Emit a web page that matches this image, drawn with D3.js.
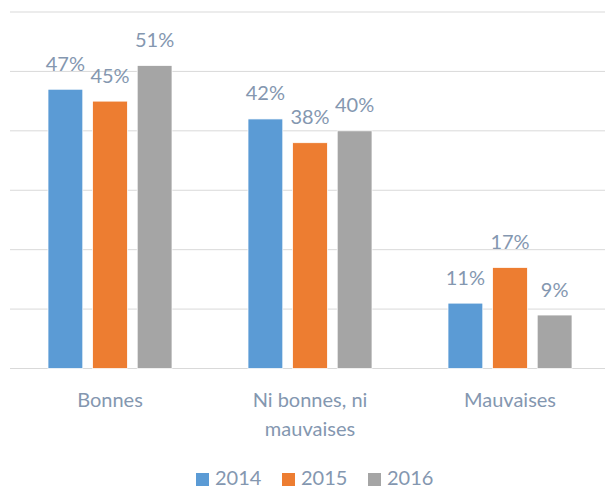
<!DOCTYPE html>
<html>
<head>
<meta charset="utf-8">
<script src="https://cdn.jsdelivr.net/npm/d3@7"></script>
<style>
  html, body { margin: 0; padding: 0; background: #fff; }
  #chart { width: 605px; height: 490px; overflow: hidden; }
  text { font-family: Lato, "Open Sans", sans-serif; fill: #8497b0; }
</style>
</head>
<body>
<div id="chart"></div>
<script>
// categories and series
const categories = ['Bonnes', 'Ni bonnes, ni mauvaises', 'Mauvaises']
const categoryLines = [['Bonnes'], ['Ni bonnes, ni', 'mauvaises'], ['Mauvaises']]
const years = ['2014', '2015', '2016']
const values2014 = [0.47, 0.42, 0.11]
const values2015 = [0.45, 0.38, 0.17]
const values2016 = [0.51, 0.40, 0.09]
const yTicks = [0, 0.1, 0.2, 0.3, 0.4, 0.5, 0.6]
const colors = ['#5b9bd5', '#ed7d31', '#a5a5a5']

const series = [values2014, values2015, values2016]

const width = 605
const height = 490
const margin = { top: 12, right: -5, bottom: 121.5, left: 10 }

const svg = d3.select('#chart').append('svg')
	.attr('width', width)
	.attr('height', height)

/**
 * Scales
 */
const x0 = d3.scaleBand()
	.domain(categories)
	.range([margin.left, width - margin.right])

const x1 = d3.scaleBand()
	.domain(years)
	.range([38, 162])
	.paddingInner(0.22)

const y = d3.scaleLinear()
	.domain([0, 0.6])
	.range([height - margin.bottom, margin.top])

const fmt = d3.format('.0%')

/**
 * Gridlines
 */
svg.append('g')
	.selectAll('line')
	.data(yTicks)
	.enter().append('line')
	.attr('x1', margin.left)
	.attr('x2', width - margin.right)
	.attr('y1', d => y(d))
	.attr('y2', d => y(d))
	.attr('stroke', '#d9d9d9')
	.attr('stroke-width', 1)

/**
 * Bars + labels
 */
const groups = svg.append('g')
	.selectAll('g')
	.data(categories)
	.enter().append('g')
	.attr('transform', d => 'translate(' + x0(d) + ',0)')

const cells = (c, ci) => years.map((yr, si) => ({ year: yr, value: series[si][ci], color: colors[si] }))

groups.selectAll('rect')
	.data(cells)
	.enter().append('rect')
	.attr('x', d => x1(d.year))
	.attr('y', d => y(d.value))
	.attr('width', x1.bandwidth())
	.attr('height', d => y(0) - y(d.value))
	.attr('fill', d => d.color)
	.attr('stroke', '#fff')
	.attr('stroke-width', 0.75)

groups.selectAll('text.label')
	.data(cells)
	.enter().append('text')
	.attr('class', 'label')
	.attr('text-anchor', 'middle')
	.attr('font-size', 20)
	.attr('x', d => x1(d.year) + x1.bandwidth() / 2)
	.attr('y', d => y(d.value) - 18.5)
	.text(d => fmt(d.value))

/**
 * Category axis labels
 */
const catLabels = svg.append('g')
	.selectAll('text')
	.data(categories)
	.enter().append('text')
	.attr('text-anchor', 'middle')
	.attr('font-size', 20)
	.attr('x', d => x0(d) + x0.bandwidth() / 2)
	.attr('y', y(0) + 38)

catLabels.selectAll('tspan')
	.data((d, i) => categoryLines[i])
	.enter().append('tspan')
	.attr('x', function () { return d3.select(this.parentNode).attr('x') })
	.attr('dy', (d, i) => i === 0 ? 0 : 29)
	.text(d => d)

/**
 * Legend
 */
const lx = d3.scalePoint()
	.domain(years)
	.range([196, 368])

const legend = svg.append('g')
	.selectAll('g')
	.data(years)
	.enter().append('g')
	.attr('transform', d => 'translate(' + lx(d) + ',0)')

legend.append('rect')
	.attr('x', 0)
	.attr('y', 473)
	.attr('width', 13)
	.attr('height', 13)
	.attr('fill', (d, i) => colors[i])

legend.append('text')
	.attr('x', 19)
	.attr('y', 485)
	.attr('font-size', 20)
	.text(d => d)
</script>
</body>
</html>
